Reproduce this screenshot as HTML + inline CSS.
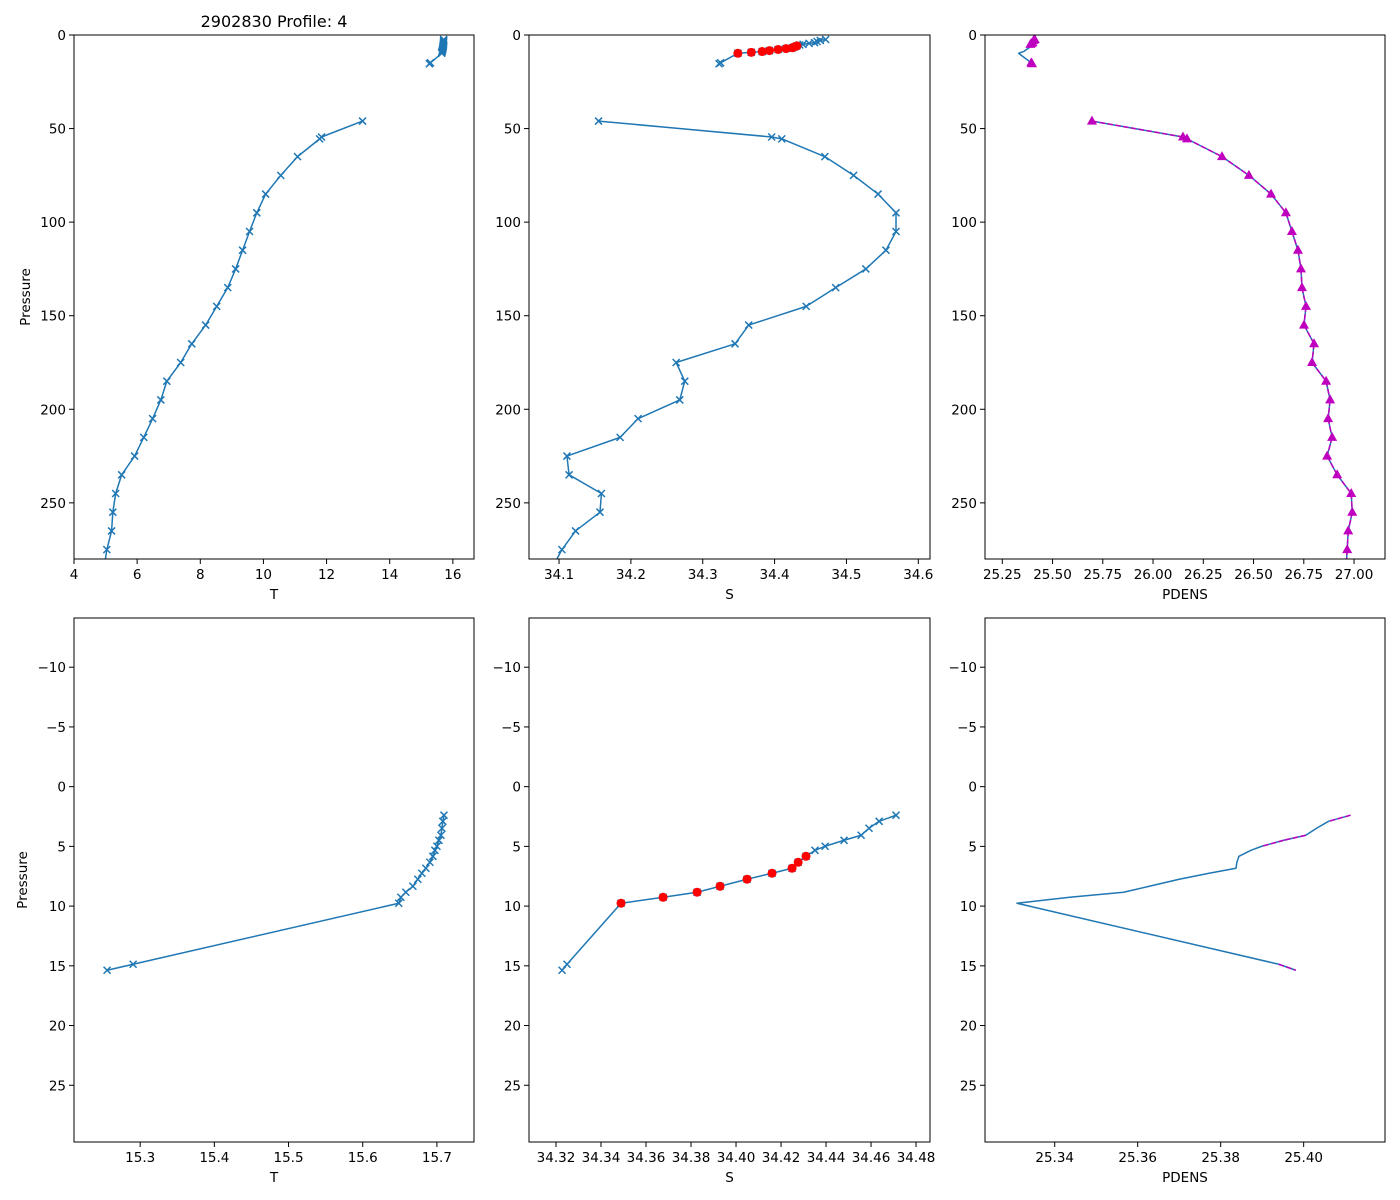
<!DOCTYPE html>
<html><head><meta charset="utf-8"><title>2902830 Profile: 4</title>
<style>
html,body{margin:0;padding:0;background:#fff;width:1400px;height:1200px;overflow:hidden;position:relative;}
svg{display:block;position:absolute;left:0;top:0;overflow:hidden;font-family:"DejaVu Sans","Liberation Sans",sans-serif;}
</style></head>
<body>
<svg id="fig" width="1400" height="1200" viewBox="0 0 1400 1200" xmlns="http://www.w3.org/2000/svg">
<rect width="1400" height="1200" fill="#fff"/>
<text x="274" y="27" font-size="16" text-anchor="middle">2902830 Profile: 4</text>
</svg>
<script>
// ---- data ----
const pressure = [2.39,2.90,3.48,4.07,4.49,4.99,5.33,5.83,6.33,6.83,7.25,7.75,8.34,8.84,9.26,9.76,14.87,15.37,NaN,
  46,54.5,55.5,65,75,85,95,105,115,125,135,145,155,165,175,185,195,205,215,225,235,245,255,265,275,285];
const temperature = [15.7095,15.708,15.7068,15.7054,15.7027,15.700,15.6973,15.6946,15.6905,15.6851,15.6797,15.6743,15.6676,15.6581,15.6514,15.6486,15.2905,15.2554,NaN,
  13.14,11.84,11.78,11.08,10.55,10.07,9.79,9.56,9.34,9.12,8.87,8.52,8.17,7.73,7.38,6.94,6.75,6.49,6.21,5.92,5.51,5.32,5.23,5.19,5.04,4.95];
const salinity = [34.4711,34.4636,34.4591,34.4556,34.448,34.4396,34.4351,34.4311,34.4276,34.4249,34.416,34.4049,34.3929,34.3827,34.3676,34.3489,34.3249,34.3227,NaN,
  34.155,34.396,34.410,34.470,34.510,34.544,34.569,34.569,34.555,34.527,34.485,34.444,34.364,34.345,34.263,34.275,34.268,34.210,34.185,34.111,34.114,34.159,34.157,34.123,34.104,34.09];
const pdens = [25.4113,25.406,25.4031,25.4005,25.3952,25.3899,25.3873,25.3844,25.3839,25.3837,25.3772,25.370,25.3628,25.3566,25.3436,25.3309,25.394,25.3981,NaN,
  25.696,26.149,26.169,26.343,26.477,26.587,26.661,26.691,26.721,26.736,26.741,26.761,26.751,26.801,26.791,26.861,26.881,26.871,26.891,26.866,26.916,26.986,26.991,26.971,26.966,26.96];
const salFlag = [0,0,0,0,0,0,0,1,1,1,1,1,1,1,1,1,0,0,0, 0,0,0,0,0,0,0,0,0,0,0,0,0,0,0,0,0,0,0,0,0,0,0,0,0,0];
const pdFlag = [1,1,0,1,1,1,0,0,0,0,0,0,0,0,0,0,1,1,0, 1,1,1,1,1,1,1,1,1,1,1,1,1,1,1,1,1,1,1,1,1,1,1,1,1,1];
const topYTicks = [0,50,100,150,200,250];
const botYTicks = [-10,-5,0,5,10,15,20,25];
const tTopTicks = [4,6,8,10,12,14,16];
const sTopTicks = [34.1,34.2,34.3,34.4,34.5,34.6];
const pTopTicks = [25.25,25.5,25.75,26.0,26.25,26.5,26.75,27.0];
const tBotTicks = [15.3,15.4,15.5,15.6,15.7];
const sBotTicks = [34.32,34.34,34.36,34.38,34.40,34.42,34.44,34.46,34.48];
const pBotTicks = [25.34,25.36,25.38,25.40];

const NS = "http://www.w3.org/2000/svg";
const svg = document.getElementById('fig');
const BLUE = "#1f77b4", MAG = "#bf00bf";
let clipN = 0;
function mk(tag, attrs, parent){
  const e = document.createElementNS(NS, tag);
  for (const k in attrs) e.setAttribute(k, attrs[k]);
  (parent||svg).appendChild(e);
  return e;
}
function fmtY(v){ return v<0 ? "\u2212"+Math.abs(v) : String(v); }

function panel(o){
  const g = mk('g', {});
  
  
  const xs = v => o.x0 + (v - o.xmin) / (o.xmax - o.xmin) * (o.x1 - o.x0);
  const ys = v => o.y0 + (v - o.ymin) / (o.ymax - o.ymin) * (o.y1 - o.y0);
  const xv = o.xdata;
  const ok = i => {
    if (isNaN(xv[i]) || isNaN(pressure[i])) return false;
    const px = xs(xv[i]), py = ys(pressure[i]);
    return px >= 0 && px <= 1400 && py >= 0 && py <= 1190;
  };
  const cid = 'c' + (clipN++);
  const cp = mk('clipPath', {id: cid}, g);
  mk('rect', {x:o.x0, y:o.y0, width:o.x1-o.x0, height:o.y1-o.y0}, cp);
  const plot = mk('g', {'clip-path':'url(#'+cid+')'}, g);
  
  
  let segs = [], cur = [];
  for (let i=0;i<pressure.length;i++){
    if (!ok(i)) { if (cur.length) segs.push(cur); cur=[]; continue; }
    cur.push(xs(xv[i]).toFixed(2)+','+ys(pressure[i]).toFixed(2));
  }
  if (cur.length) segs.push(cur);
  segs.forEach(s => {
    if (s.length < 2) return;
    const pl = mk('polyline', {points:s.join(' '), fill:'none', stroke:BLUE, 'stroke-width':1.5, 'stroke-linejoin':'round'}, plot);
    
    
  });
  for (let i=0;i<pressure.length;i++){
    if (!ok(i)) continue;
    const cx = xs(xv[i]), cy = ys(pressure[i]);
    if (o.marker === 'x'){
      const p = mk('path', {d:`M${cx-3.5},${cy-3.5}L${cx+3.5},${cy+3.5}M${cx-3.5},${cy+3.5}L${cx+3.5},${cy-3.5}`, stroke:BLUE, 'stroke-width':1.5}, plot);
      
      
    }
  }
  if (o.red){
    for (let i=0;i<pressure.length;i++){
      if (!salFlag[i] || !ok(i)) continue;
      const c = mk('circle', {cx:xs(xv[i]), cy:ys(pressure[i]), r:4.5, fill:'#ff0000'}, plot);
      
      
    }
  }
  if (o.mag){
    for (let i=0;i<pressure.length-1;i++){
      if (pdFlag[i] && pdFlag[i+1] && ok(i) && ok(i+1)){
        const l = mk('line', {x1:xs(xv[i]), y1:ys(pressure[i]), x2:xs(xv[i+1]), y2:ys(pressure[i+1]), stroke:MAG, 'stroke-width':1.5, 'stroke-dasharray':'5.5,2.4'}, plot);
        
        
      }
    }
    if (o.tri){
      for (let i=0;i<pressure.length;i++){
        if (!pdFlag[i] || !ok(i)) continue;
        const cx = xs(xv[i]), cy = ys(pressure[i]);
        const t = mk('polygon', {points:`${cx},${cy-5.5} ${cx+5},${cy+3.5} ${cx-5},${cy+3.5}`, fill:MAG}, plot);
        
        
      }
    }
  }
  const fr = mk('rect', {x:o.x0, y:o.y0, width:o.x1-o.x0, height:o.y1-o.y0, fill:'none', stroke:'#000', 'stroke-width':1}, g);
  
  
  o.xticks.forEach(v => {
    const x = xs(v);
    mk('line', {x1:x, y1:o.y1, x2:x, y2:o.y1+5, stroke:'#000', 'stroke-width':1}, g);
    const t = mk('text', {x:x, y:o.y1+20, 'font-size':13.5, 'text-anchor':'middle'}, g);
    
    
    t.textContent = v.toFixed(o.xdec);
  });
  o.yticks.forEach(v => {
    const y = ys(v);
    mk('line', {x1:o.x0-5, y1:y, x2:o.x0, y2:y, stroke:'#000', 'stroke-width':1}, g);
    const t = mk('text', {x:o.x0-8, y:y+5, 'font-size':13.5, 'text-anchor':'end'}, g);
    
    
    t.textContent = fmtY(v);
  });
  const xl = mk('text', {x:(o.x0+o.x1)/2, y:o.y1+40, 'font-size':13.5, 'text-anchor':'middle'}, g);
  
  
  xl.textContent = o.xlabel;
  if (o.ylabel){
    const cy = (o.y0+o.y1)/2;
    const yl = mk('text', {x:o.ylx, y:cy, 'font-size':13.5, 'text-anchor':'middle', transform:`rotate(-90 ${o.ylx} ${cy})`}, g);
    
    
    yl.textContent = o.ylabel;
  }
}

const TOP = {y0:35, y1:559, ymin:0, ymax:280, yticks:topYTicks};
const BOT = {y0:618, y1:1142, ymin:-14.12, ymax:29.75, yticks:botYTicks};

panel(Object.assign({name:'temp-profile-full', x0:74, x1:474, xmin:4.0, xmax:16.67, xticks:tTopTicks, xdec:0, xdata:temperature, marker:'x', xlabel:'T', ylabel:'Pressure', ylx:30}, TOP));
panel(Object.assign({name:'sal-profile-full', x0:529, x1:930, xmin:34.0582, xmax:34.6163, xticks:sTopTicks, xdec:1, xdata:salinity, marker:'x', red:true, xlabel:'S'}, TOP));
panel(Object.assign({name:'pdens-profile-full', x0:985, x1:1385, xmin:25.164, xmax:27.154, xticks:pTopTicks, xdec:2, xdata:pdens, mag:true, tri:true, xlabel:'PDENS'}, TOP));
panel(Object.assign({name:'temp-profile-zoom', x0:74, x1:474, xmin:15.2108, xmax:15.75, xticks:tBotTicks, xdec:1, xdata:temperature, marker:'x', xlabel:'T', ylabel:'Pressure', ylx:27}, BOT));
panel(Object.assign({name:'sal-profile-zoom', x0:529, x1:930, xmin:34.308, xmax:34.4862, xticks:sBotTicks, xdec:2, xdata:salinity, marker:'x', red:true, xlabel:'S'}, BOT));
panel(Object.assign({name:'pdens-profile-zoom', x0:985, x1:1385, xmin:25.3232, xmax:25.4196, xticks:pBotTicks, xdec:2, xdata:pdens, mag:true, tri:false, xlabel:'PDENS'}, BOT));
</script>
</body></html>
